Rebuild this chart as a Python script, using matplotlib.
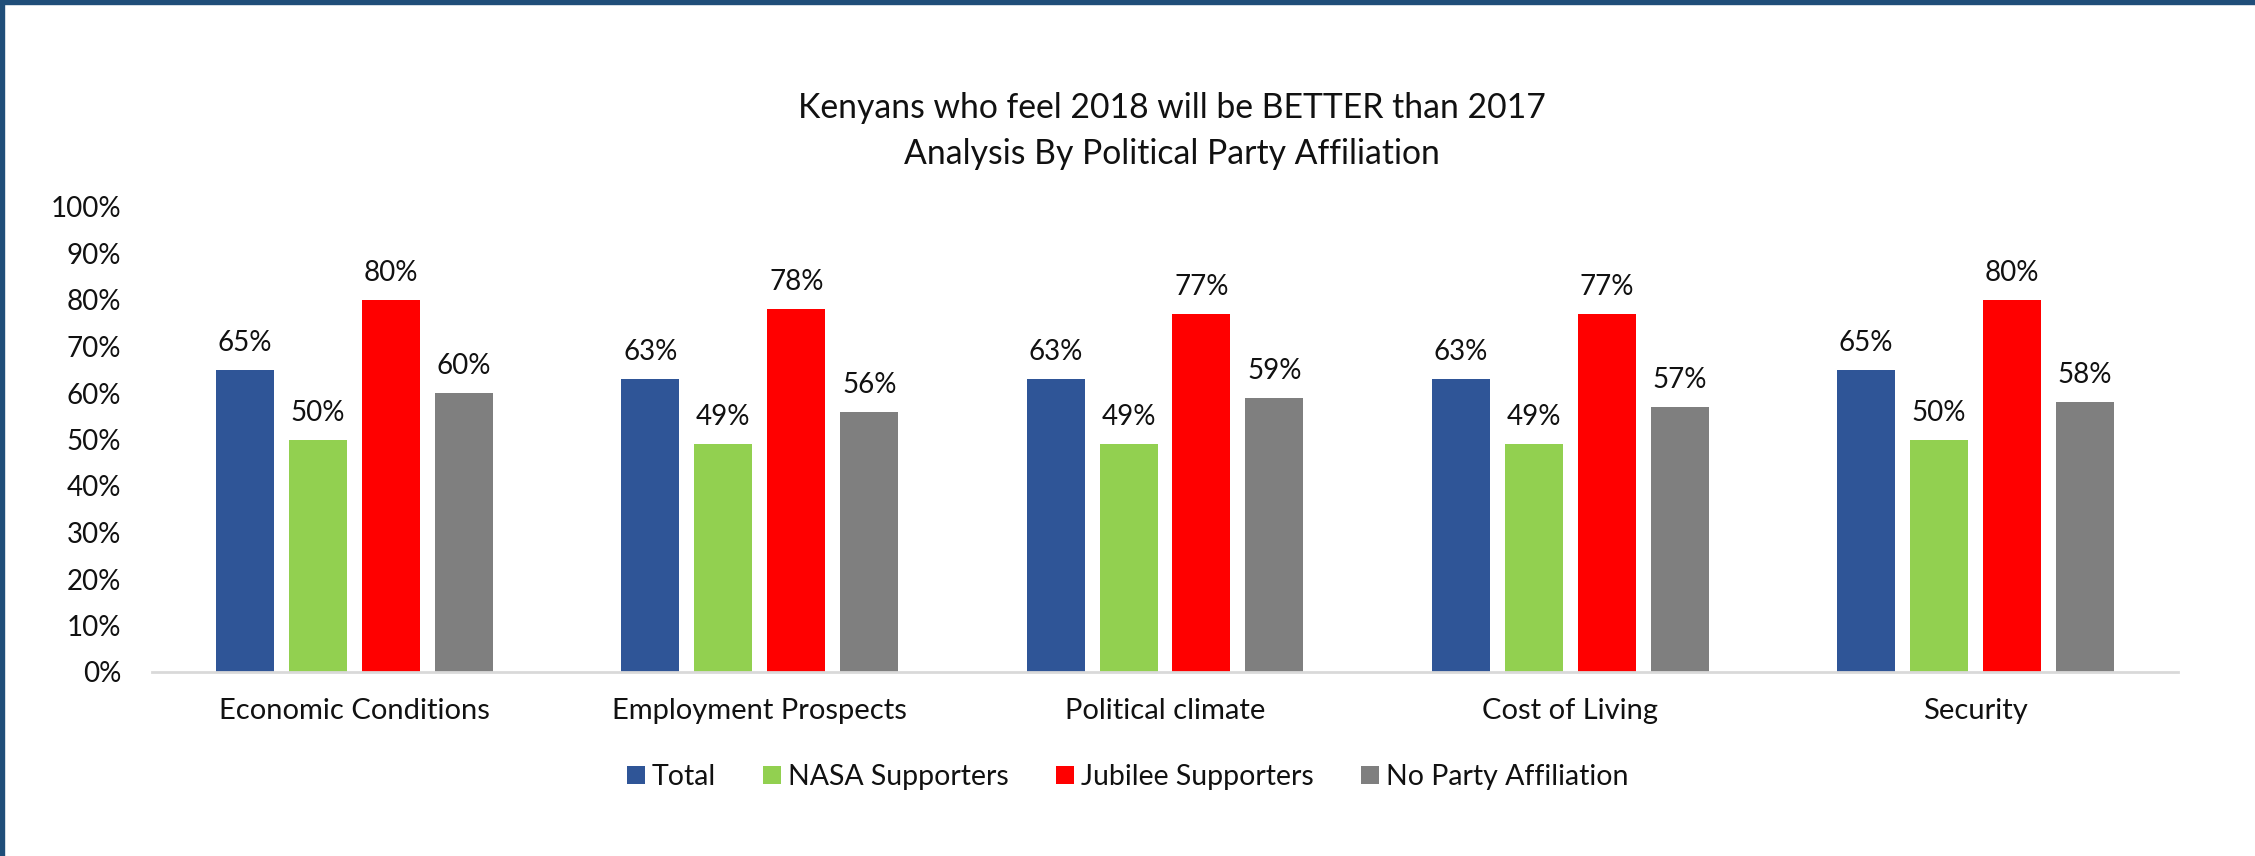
import numpy as np
import matplotlib.pyplot as plt
from matplotlib.patches import Rectangle
from matplotlib.ticker import PercentFormatter

plt.rcParams["font.family"] = ["Lato", "DejaVu Sans"]

categories = ["Economic Conditions", "Employment Prospects", "Political climate",
              "Cost of Living", "Security"]
series_names = ["Total", "NASA Supporters", "Jubilee Supporters", "No Party Affiliation"]
total = [65, 63, 63, 63, 65]
nasa = [50, 49, 49, 49, 50]
jubilee = [80, 78, 77, 77, 80]
no_party = [60, 56, 59, 57, 58]
colors = ["#2F5597", "#92D050", "#FF0000", "#7F7F7F"]

W, H = 2255, 856
fig = plt.figure(figsize=(W / 100, H / 100), dpi=100)
ax = fig.add_axes([152 / W, 1 - 672 / H, (2178 - 152) / W, (672 - 207) / H])

x = np.arange(len(categories))
step = 0.18
width = 0.143
for i, (name, vals, c) in enumerate(zip(series_names, [total, nasa, jubilee, no_party], colors)):
    bars = ax.bar(x + (i - 1.5) * step, vals, width, color=c, label=name)
    for b, v in zip(bars, vals):
        ax.annotate(f"{v}%", (b.get_x() + b.get_width() / 2, v), xytext=(0, 10),
                    textcoords="offset points", ha="center", va="bottom",
                    fontsize=20, color="#111111")

ax.set_xlim(-0.5, 4.5)
ax.set_ylim(0, 100)
ax.set_yticks(np.arange(0, 101, 10))
ax.yaxis.set_major_formatter(PercentFormatter(decimals=0))
ax.set_xticks(x)
ax.set_xticklabels(categories, fontsize=21)
ax.tick_params(axis="both", length=0, colors="#111111")
ax.tick_params(axis="y", pad=22, labelsize=20)
ax.tick_params(axis="x", pad=19)
for s in ["top", "right", "left"]:
    ax.spines[s].set_visible(False)
ax.spines["bottom"].set_color("#D9D9D9")
ax.spines["bottom"].set_linewidth(2)

fig.text(1172 / W, 1 - 108 / H, "Kenyans who feel 2018 will be BETTER than 2017",
         ha="center", va="center", fontsize=24.3, color="#111111")
fig.text(1172 / W, 1 - 154 / H, "Analysis By Political Party Affiliation",
         ha="center", va="center", fontsize=24.3, color="#111111")

leg = fig.legend(loc="center", bbox_to_anchor=(0.5, 1 - 777 / H), ncol=4, frameon=False,
                 fontsize=20.5, handlelength=0.63, handleheight=0.6, handletextpad=0.25,
                 columnspacing=1.65)
for t in leg.get_texts():
    t.set_color("#111111")

# dark blue frame on top and left edges
fig.add_artist(Rectangle((0, 1 - 4 / H), 1, 4 / H, transform=fig.transFigure,
                         color="#1F4E79", zorder=10))
fig.add_artist(Rectangle((0, 0), 4 / W, 1, transform=fig.transFigure,
                         color="#1F4E79", zorder=10))

fig.savefig("out.png", dpi=100)
